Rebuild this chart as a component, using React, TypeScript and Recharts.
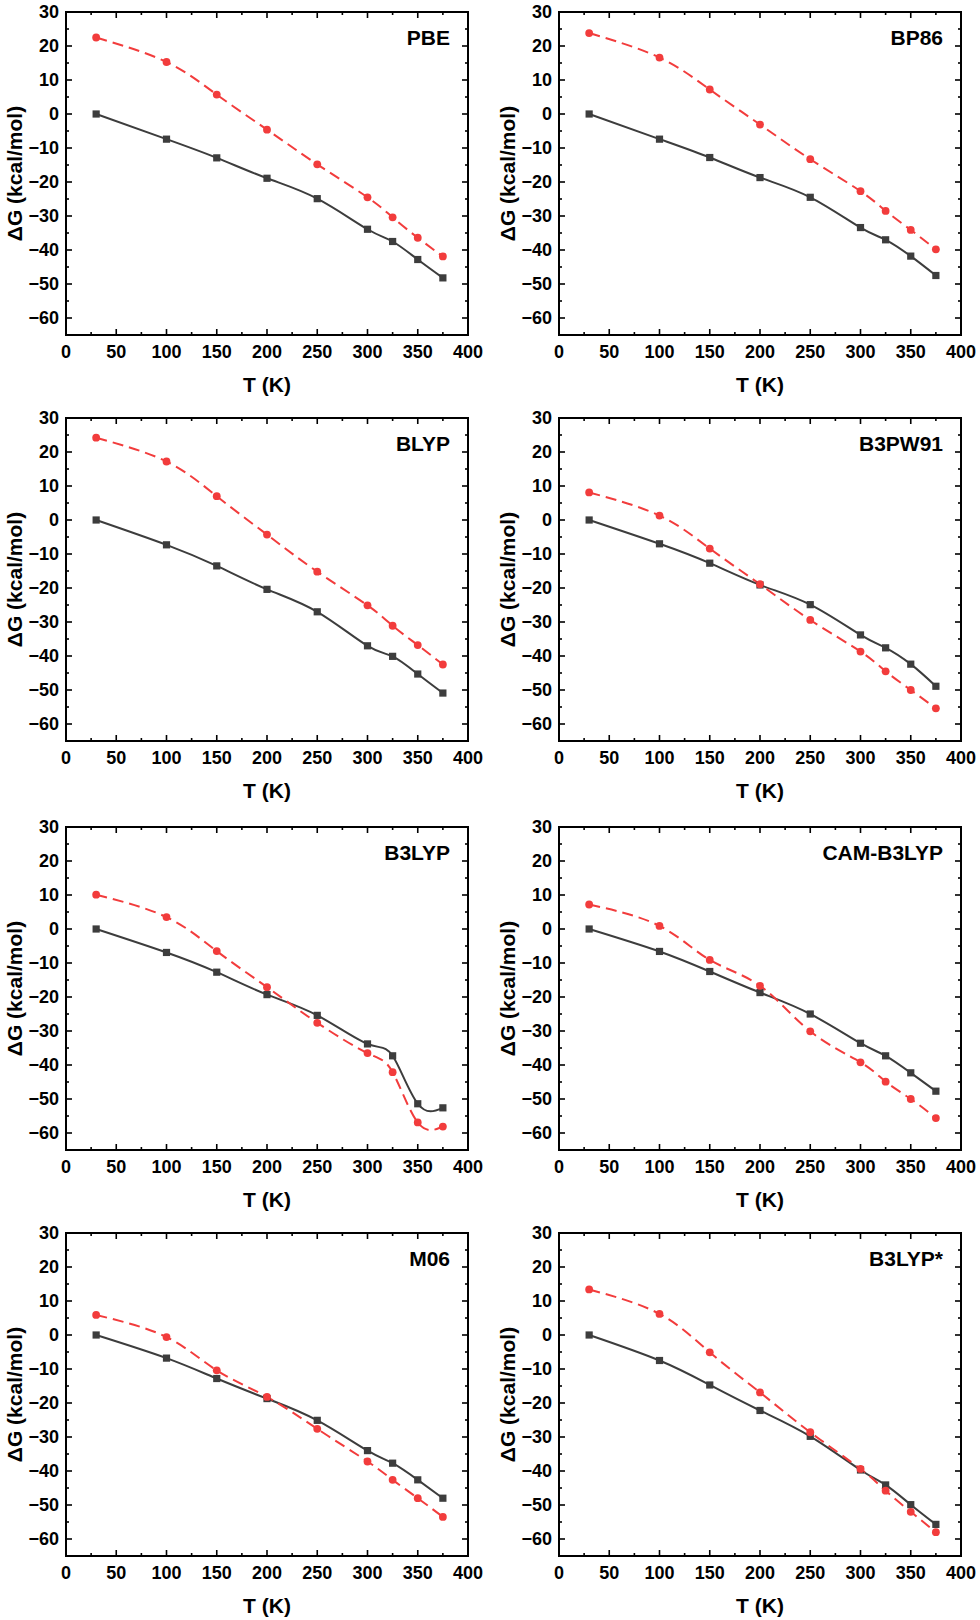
import { Line, LineChart, ReferenceArea, XAxis, YAxis } from "recharts";

// temperatures (K) shared by every panel
const T_K = [30, 100, 150, 200, 250, 300, 325, 350, 375];

// solid dark series (squares) and dashed red series (circles), kcal/mol
const PBE_SOLID = [0, -7.4, -12.9, -18.9, -24.9, -33.9, -37.5, -42.8, -48.2];
const PBE_DASH = [22.5, 15.3, 5.7, -4.6, -14.8, -24.5, -30.4, -36.4, -41.9];

const BP86_SOLID = [0, -7.4, -12.8, -18.7, -24.5, -33.4, -37.0, -41.8, -47.5];
const BP86_DASH = [23.8, 16.6, 7.2, -3.1, -13.3, -22.7, -28.5, -34.1, -39.8];

const BLYP_SOLID = [0, -7.3, -13.5, -20.4, -27.0, -37.0, -40.1, -45.3, -50.9];
const BLYP_DASH = [24.2, 17.2, 7.0, -4.3, -15.2, -25.1, -31.1, -36.8, -42.5];

const B3PW91_SOLID = [0, -7.0, -12.7, -19.1, -24.9, -33.8, -37.6, -42.4, -48.9];
const B3PW91_DASH = [8.1, 1.3, -8.4, -18.9, -29.4, -38.7, -44.5, -50.0, -55.4];

const B3LYP_SOLID = [0, -6.9, -12.7, -19.3, -25.4, -33.8, -37.3, -51.4, -52.6];
const B3LYP_DASH = [10.1, 3.5, -6.5, -17.1, -27.6, -36.5, -42.1, -56.9, -58.1];

const CAM_SOLID = [0, -6.6, -12.5, -18.7, -25.0, -33.6, -37.3, -42.3, -47.7];
const CAM_DASH = [7.2, 0.9, -9.1, -16.7, -30.1, -39.2, -44.9, -50.0, -55.6];

const M06_SOLID = [0, -6.8, -12.8, -18.7, -25.1, -34.0, -37.7, -42.6, -48.0];
const M06_DASH = [5.9, -0.6, -10.4, -18.2, -27.6, -37.2, -42.6, -48.0, -53.5];

const B3LYPS_SOLID = [0, -7.5, -14.7, -22.2, -29.8, -39.7, -44.1, -49.9, -55.7];
const B3LYPS_DASH = [13.4, 6.2, -5.1, -16.9, -28.6, -39.4, -45.8, -52.0, -58.0];

const PANEL_NAMES = ["PBE", "BP86", "BLYP", "B3PW91", "B3LYP", "CAM-B3LYP", "M06", "B3LYP*"];

const X_TICKS = [0, 25, 50, 75, 100, 125, 150, 175, 200, 225, 250, 275, 300, 325, 350, 375, 400];
const Y_TICKS = [-60, -55, -50, -45, -40, -35, -30, -25, -20, -15, -10, -5, 0, 5, 10, 15, 20, 25, 30];

const panels = [
  { name: PANEL_NAMES[0], solid: PBE_SOLID, dash: PBE_DASH },
  { name: PANEL_NAMES[1], solid: BP86_SOLID, dash: BP86_DASH },
  { name: PANEL_NAMES[2], solid: BLYP_SOLID, dash: BLYP_DASH },
  { name: PANEL_NAMES[3], solid: B3PW91_SOLID, dash: B3PW91_DASH },
  { name: PANEL_NAMES[4], solid: B3LYP_SOLID, dash: B3LYP_DASH },
  { name: PANEL_NAMES[5], solid: CAM_SOLID, dash: CAM_DASH },
  { name: PANEL_NAMES[6], solid: M06_SOLID, dash: M06_DASH },
  { name: PANEL_NAMES[7], solid: B3LYPS_SOLID, dash: B3LYPS_DASH },
];

const FONT = 'Arial, "Liberation Sans", sans-serif';
const DARK = "#3d3d3d";
const RED = "#f23c3c";

const PLOT_W = 402;
const PLOT_H = 323;
const Y_AXIS_W = 102;
const X_AXIS_H = 64;
const TOP_PAD = 10;
const RIGHT_PAD = 18;
const COL_LEFT = [66, 559];
const ROW_TOP = [12, 418, 827, 1233];

const fmt = (v: number) => (v < 0 ? "\u2212" + Math.abs(v) : String(v));

function XTick(props: any) {
  const { x, y, payload } = props;
  const v = payload.value as number;
  const major = v % 50 === 0;
  const len = major ? 6 : 3;
  return (
    <g>
      {v > 0 && v < 400 && (
        <>
          <line x1={x} y1={y} x2={x} y2={y - len} stroke="#000" strokeWidth={1.6} />
          <line x1={x} y1={y - PLOT_H} x2={x} y2={y - PLOT_H + len} stroke="#000" strokeWidth={1.6} />
        </>
      )}
      {major && (
        <text x={x} y={y + 22.5} textAnchor="middle" fontSize={18} fontWeight={700} fontFamily={FONT} fill="#000">
          {fmt(v)}
        </text>
      )}
    </g>
  );
}

function YTick(props: any) {
  const { x, y, payload } = props;
  const v = payload.value as number;
  const major = v % 10 === 0;
  const len = major ? 6 : 3;
  return (
    <g>
      {v < 30 && (
        <>
          <line x1={x} y1={y} x2={x + len} y2={y} stroke="#000" strokeWidth={1.6} />
          <line x1={x + PLOT_W} y1={y} x2={x + PLOT_W - len} y2={y} stroke="#000" strokeWidth={1.6} />
        </>
      )}
      {major && (
        <text x={x - 7} y={y} dy="0.35em" textAnchor="end" fontSize={18} fontWeight={700} fontFamily={FONT} fill="#000">
          {fmt(v)}
        </text>
      )}
    </g>
  );
}

function Square(props: any) {
  const { cx, cy, index } = props;
  return <rect key={`sq-${index}`} x={cx - 3.6} y={cy - 3.6} width={7.2} height={7.2} fill={DARK} />;
}

function Panel({ idx }: { idx: number }) {
  const p = panels[idx];
  const data = T_K.map((t, i) => ({ t, solid: p.solid[i], dash: p.dash[i] }));
  const col = idx % 2;
  const row = Math.floor(idx / 2);
  return (
    <div
      style={{
        position: "absolute",
        left: COL_LEFT[col] - Y_AXIS_W,
        top: ROW_TOP[row] - TOP_PAD,
      }}
    >
      <LineChart
        width={Y_AXIS_W + PLOT_W + RIGHT_PAD}
        height={TOP_PAD + PLOT_H + X_AXIS_H}
        data={data}
        margin={{ top: TOP_PAD, right: RIGHT_PAD, bottom: 0, left: 0 }}
      >
        <XAxis
          dataKey="t"
          type="number"
          domain={[0, 400]}
          ticks={X_TICKS}
          interval={0}
          height={X_AXIS_H}
          axisLine={false}
          tickLine={false}
          tickSize={0}
          tickMargin={0}
          tick={(tp: any) => <XTick {...tp} />}
          label={{
            value: "T (K)",
            position: "insideBottom",
            offset: 7.5,
            fontSize: 21,
            fontWeight: 700,
            fontFamily: FONT,
            fill: "#000",
          }}
        />
        <YAxis
          type="number"
          domain={[-65, 30]}
          ticks={Y_TICKS}
          interval={0}
          width={Y_AXIS_W}
          axisLine={false}
          tickLine={false}
          tickSize={0}
          tickMargin={0}
          tick={(tp: any) => <YTick {...tp} />}
          label={{
            value: "\u0394G (kcal/mol)",
            angle: -90,
            position: "center",
            fontSize: 21,
            fontWeight: 700,
            fontFamily: FONT,
            fill: "#000",
          }}
        />
        <ReferenceArea
          x1={0}
          x2={400}
          y1={-65}
          y2={30}
          fill="none"
          stroke="#000"
          strokeWidth={2}
          label={{
            value: p.name,
            position: "insideTopRight",
            offset: 18,
            fontSize: 21,
            fontWeight: 700,
            fontFamily: FONT,
            fill: "#000",
          }}
        />
        <Line
          type="natural"
          dataKey="solid"
          stroke={DARK}
          strokeWidth={2}
          dot={(dp: any) => <Square key={`sq-${dp.index}`} {...dp} />}
          isAnimationActive={false}
        />
        <Line
          type="natural"
          dataKey="dash"
          stroke={RED}
          strokeWidth={2}
          strokeDasharray="11 6"
          dot={{ r: 3.9, fill: RED, stroke: "none", strokeWidth: 0 }}
          isAnimationActive={false}
        />
      </LineChart>
    </div>
  );
}

export default function App() {
  return (
    <div style={{ position: "absolute", left: 0, top: 0, width: 980, height: 1620, background: "#fff" }}>
      {panels.map((_, i) => (
        <Panel key={i} idx={i} />
      ))}
    </div>
  );
}
